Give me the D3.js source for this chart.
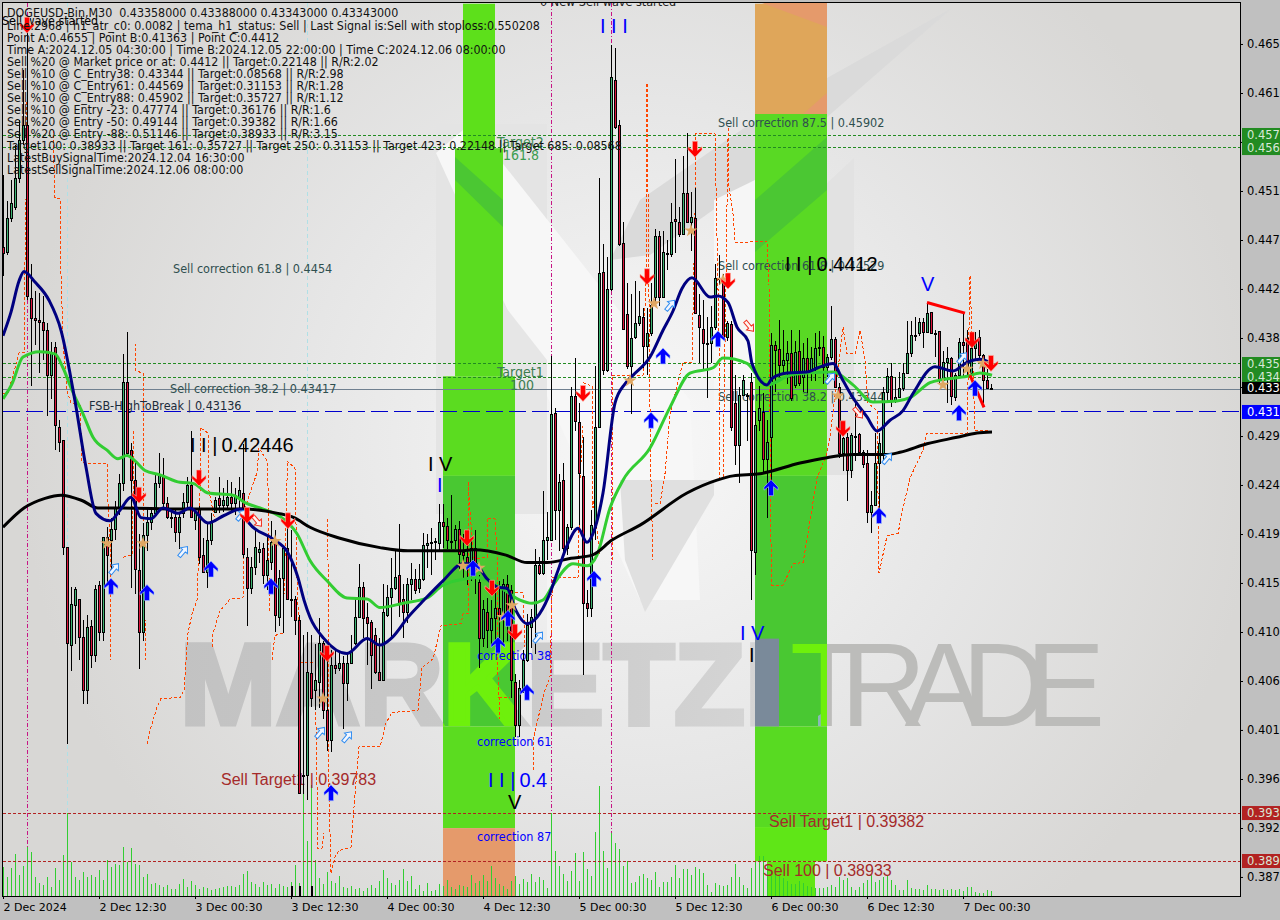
<!DOCTYPE html>
<html><head><meta charset="utf-8">
<script src="https://cdnjs.cloudflare.com/ajax/libs/d3/7.8.5/d3.min.js"></script>
<style>html,body{margin:0;padding:0;background:#c0c0c0}svg{display:block}
text{font-family:"DejaVu Sans Condensed","DejaVu Sans",sans-serif}</style></head><body>
<svg id="c" width="1280" height="920"></svg>
<script>
// Prices are written as price x 10^4, bars are 30-minute candles numbered from the left.
const opens=[4466,4462,4493,4504,4531,4566,4580,4419,4400,4398,
4396,4389,4347,4373,4298,4286,4186,4095,4132,4138,
4102,4053,4112,4085,4151,4107,4195,4193,4203,4223,
4246,4340,4277,4249,4165,4107,4197,4209,4218,4246,
4253,4227,4214,4214,4200,4218,4228,4244,4211,4223,
4179,4163,4193,4219,4232,4225,4225,4233,4227,4233,
4237,4177,4148,4167,4181,4185,4160,4172,4191,4121,
4157,4185,4138,4138,4118,3973,3973,4068,4053,4060,
4096,4034,4006,4076,4073,4078,4059,4078,4096,4121,
4149,4121,4116,4104,4069,4062,4123,4139,4148,4160,
4138,4125,4152,4156,4148,4156,4188,4190,4192,4190,
4209,4206,4192,4193,4203,4181,4177,4171,4185,4153,
4101,4125,4109,4120,4129,4123,4152,4146,4060,4020,
4054,4081,4111,4121,4169,4162,4193,4193,4311,4221,
4249,4185,4205,4327,4303,4252,4134,4129,4205,4298,
4443,4351,4427,4622,4580,4470,4404,4355,4382,4395,
4401,4374,4386,4420,4477,4420,4461,4460,4492,4490,
4478,4517,4490,4493,4403,4390,4377,4377,4392,4437,
4437,4382,4394,4321,4281,4328,4328,4340,4181,4305,
4312,4268,4289,4375,4371,4356,4361,4367,4337,4369,
4345,4363,4349,4354,4372,4373,4354,4364,4380,4336,
4274,4289,4258,4290,4292,4275,4265,4219,4225,4265,
4274,4331,4346,4323,4326,4335,4349,4367,4384,4386,
4396,4387,4406,4386,4388,4342,4359,4363,4326,4347,
4378,4381,4349,4372,4382,4365,4342,4335];
const closes=[4461,4493,4507,4531,4566,4580,4421,4400,4398,4396,
4389,4347,4368,4300,4284,4186,4096,4133,4147,4102,
4053,4111,4085,4147,4107,4195,4179,4203,4223,4246,
4340,4274,4249,4166,4107,4197,4209,4218,4246,4253,
4227,4214,4213,4200,4214,4228,4244,4214,4219,4177,
4163,4193,4209,4230,4225,4230,4233,4227,4235,4239,
4180,4148,4167,4186,4184,4160,4174,4191,4123,4157,
4185,4138,4137,4118,3956,3972,4069,4045,4062,4096,
4034,4006,4076,4073,4078,4059,4078,4088,4121,4149,
4120,4115,4085,4069,4062,4125,4139,4148,4158,4134,
4125,4152,4156,4146,4156,4188,4190,4191,4191,4209,
4206,4193,4191,4203,4180,4179,4169,4185,4165,4101,
4128,4109,4120,4129,4123,4152,4115,4062,4020,4054,
4081,4113,4121,4169,4162,4193,4195,4310,4221,4247,
4185,4205,4327,4304,4255,4134,4129,4207,4298,4442,
4351,4427,4625,4578,4469,4390,4355,4381,4395,4402,
4374,4386,4412,4477,4420,4462,4460,4490,4491,4478,
4517,4490,4494,4405,4392,4377,4376,4392,4437,4436,
4382,4395,4298,4281,4328,4342,4327,4183,4300,4316,
4268,4284,4375,4370,4356,4361,4367,4325,4368,4339,
4363,4349,4363,4372,4373,4354,4364,4380,4336,4274,
4288,4258,4291,4289,4275,4264,4219,4225,4265,4283,
4331,4346,4323,4326,4335,4349,4367,4384,4383,4396,
4387,4405,4386,4385,4342,4359,4363,4327,4347,4378,
4375,4351,4372,4379,4365,4342,4335,4334];
const highs=[4534,4510,4529,4562,4585,4632,4674,4451,4426,4424,
4421,4396,4378,4378,4305,4286,4186,4149,4149,4138,
4118,4123,4118,4151,4155,4195,4205,4214,4230,4255,
4367,4387,4284,4267,4199,4209,4223,4223,4255,4274,
4270,4233,4223,4223,4218,4237,4252,4295,4223,4225,
4195,4209,4218,4233,4252,4242,4249,4247,4242,4252,
4283,4186,4177,4202,4191,4190,4197,4211,4202,4165,
4186,4214,4202,4141,4123,4104,4107,4104,4096,4120,
4099,4093,4090,4090,4088,4085,4087,4104,4139,4171,
4154,4134,4118,4111,4102,4152,4151,4176,4183,4208,
4152,4158,4172,4166,4171,4200,4199,4204,4195,4227,
4227,4214,4235,4207,4211,4199,4193,4194,4202,4160,
4137,4139,4137,4146,4155,4157,4160,4151,4068,4062,
4090,4124,4129,4185,4177,4239,4219,4365,4316,4255,
4265,4208,4336,4363,4321,4289,4146,4221,4356,4531,
4470,4457,4655,4653,4585,4490,4433,4423,4435,4426,
4410,4410,4433,4484,4482,4482,4473,4508,4549,4504,
4552,4573,4518,4522,4423,4417,4401,4412,4451,4459,
4442,4398,4398,4347,4336,4347,4330,4349,4314,4337,
4330,4305,4386,4379,4399,4389,4379,4389,4379,4389,
4377,4382,4373,4386,4388,4384,4367,4412,4383,4340,
4289,4293,4293,4321,4293,4277,4277,4239,4293,4293,
4336,4354,4358,4345,4350,4358,4398,4398,4401,4400,
4400,4414,4406,4389,4388,4370,4373,4364,4349,4382,
4405,4389,4381,4387,4389,4367,4353,4339];
const lows=[4440,4459,4490,4501,4527,4562,4417,4337,4375,4349,
4361,4309,4325,4277,4275,4179,4003,4071,4096,4081,
4040,4040,4074,4079,4099,4099,4152,4165,4193,4216,
4239,4272,4148,4143,4073,4099,4183,4202,4216,4242,
4221,4213,4204,4191,4185,4214,4223,4214,4202,4171,
4163,4148,4188,4218,4218,4219,4223,4218,4216,4221,
4176,4113,4143,4160,4172,4152,4146,4165,4107,4113,
4106,4137,4121,4104,3956,3956,3950,4037,4034,4036,
4026,3996,3995,4068,4071,4017,4043,4078,4095,4120,
4102,4076,4054,4068,4062,4062,4121,4102,4146,4121,
4102,4116,4137,4143,4144,4155,4167,4160,4174,4183,
4186,4185,4185,4185,4166,4158,4151,4155,4143,4074,
4093,4092,4096,4093,4099,4096,4099,4046,4009,4009,
4050,4079,4092,4087,4160,4160,4174,4193,4193,4183,
4177,4179,4202,4295,4207,4067,4121,4121,4193,4298,
4347,4350,4426,4577,4468,4389,4353,4311,4381,4393,
4354,4347,4384,4412,4412,4420,4445,4457,4461,4476,
4478,4489,4463,4405,4358,4353,4326,4358,4389,4431,
4381,4379,4295,4263,4246,4328,4286,4137,4160,4295,
4255,4214,4242,4331,4345,4347,4339,4323,4335,4337,
4331,4330,4342,4342,4365,4339,4345,4361,4335,4270,
4258,4230,4251,4267,4272,4260,4209,4200,4225,4214,
4267,4321,4317,4321,4326,4332,4349,4364,4379,4384,
4372,4387,4386,4364,4339,4342,4321,4319,4323,4347,
4345,4345,4345,4361,4361,4321,4335,4334];
const volumes=[29,19,28,42,21,30,49,44,19,13,
11,19,9,28,16,41,83,34,19,16,
24,19,21,19,26,16,36,29,32,31,
49,34,48,32,31,19,22,12,13,11,
9,11,7,7,12,17,9,15,11,7,
9,8,6,7,8,9,10,10,9,11,
22,25,14,12,9,14,11,12,8,12,
10,9,14,31,13,105,55,111,36,18,
12,24,15,13,20,9,8,10,7,8,
5,8,11,8,15,26,18,13,11,16,
27,15,20,7,11,5,13,5,6,12,
10,16,9,7,11,10,9,21,13,15,
21,15,30,18,12,10,7,15,20,12,
17,14,22,14,19,16,8,83,45,30,
22,15,25,43,15,44,27,20,64,110,
45,28,63,53,47,30,35,13,14,20,
22,18,16,24,9,14,14,19,31,18,
27,27,21,29,27,23,11,4,13,11,
10,11,19,32,19,11,8,28,34,40,
40,30,25,22,20,18,15,12,12,15,
13,10,9,8,8,8,9,11,9,19,
16,18,9,6,9,13,16,21,14,16,
19,21,16,11,6,6,16,8,7,7,
6,11,7,7,6,7,6,7,6,7,
5,9,9,4,3,3,6,5];
const blackVolumeBars=[72,74,77];

// Moving averages: [bar, price]
const fastLine=[[0,4384],[2,4406],[4,4435],[5.25,4444],[8,4434],[11.5,4417],[14.5,4389],[18,4323],[20.75,4261],[23.25,4218],[26.75,4211],[29.25,4221],[32,4233],[34.5,4214],[37,4213],[40,4223],[43.75,4218],[46.75,4223],[51.25,4209],[55.25,4216],[59.5,4222],[61.5,4209],[67.5,4194],[71.25,4181],[73.75,4158],[75.25,4137],[76.75,4121],[80.25,4101],[86,4087],[91,4101],[94.25,4095],[97.25,4102],[101.25,4121],[105.25,4137],[110,4155],[115,4171],[118,4171],[120.75,4158],[123.75,4149],[126,4148],[128,4129],[131,4115],[133.5,4121],[136.25,4139],[138.5,4162],[141.25,4190],[143.75,4204],[146,4191],[147.5,4199],[150,4237],[153,4321],[155.5,4339],[157.5,4347],[161.75,4364],[165,4389],[167.5,4407],[169.75,4428],[172.25,4438],[176.75,4420],[178.75,4421],[181.25,4415],[183.5,4392],[186.25,4379],[187.25,4358],[191,4338],[192.25,4344],[196,4349],[201,4350],[203.75,4354],[207.5,4358],[210,4342],[212.5,4326],[216,4308],[218.5,4295],[221.75,4305],[225,4314],[227.5,4330],[233,4355],[237.5,4351],[241,4359],[244.25,4362],[246.75,4359]];
const midLine=[[0,4325],[2.25,4339],[5,4364],[9.25,4369],[13,4367],[15,4354],[17.25,4333],[20,4311],[22.5,4289],[26,4277],[28.75,4269],[31,4272],[33,4267],[35.5,4258],[39.25,4254],[44.25,4247],[47.5,4246],[51.25,4237],[57.5,4235],[60.5,4228],[64.25,4223],[70,4213],[73.5,4199],[76.75,4174],[81,4155],[86,4139],[91,4138],[94.25,4130],[100,4134],[106,4139],[110,4151],[116,4157],[118.5,4158],[124.25,4149],[129.25,4137],[132.25,4134],[135,4137],[137.5,4151],[142.5,4171],[146,4169],[148.5,4179],[151.75,4223],[155,4249],[161.75,4279],[166.75,4317],[171.75,4349],[177.5,4354],[180,4363],[186,4358],[188.5,4347],[191,4338],[196.75,4347],[201,4349],[207.5,4350],[212.5,4338],[217.5,4322],[223.5,4323],[226.75,4326],[231.75,4340],[235,4343],[241,4346],[244.25,4349],[247.25,4347]];
const slowLine=[[0,4205],[5.25,4223],[10.5,4232],[14.5,4235],[19.75,4230],[23.75,4223],[29.75,4223],[44.25,4222],[60.5,4222],[68.75,4218],[72.75,4214],[76.75,4205],[84,4195],[94.25,4186],[101.25,4183],[114.5,4183],[117.5,4184],[125.75,4179],[131,4172],[136,4172],[142,4176],[147.25,4179],[152.25,4193],[159.25,4207],[171,4237],[178.5,4249],[182.5,4253],[189.25,4255],[199.25,4265],[206,4270],[212.5,4273],[221,4273],[224.25,4275],[231,4283],[238.5,4289],[243.5,4293],[247.25,4294]];

// Orange dashed stop trail, broken into its visible pieces
const trailPieces=[
[[0,4330],[1.25,4330],[3.5,4361],[4,4368],[5.25,4368],[5.25,4398],[5.75,4510],[6,4604]],
[[12.5,4576],[13,4513],[14.25,4512],[14.5,4442],[15,4379],[16,4333],[17,4321],[19.25,4319],[19.75,4267],[20.5,4265],[26,4265],[26.25,4227],[26.75,4193],[27,4081]],
[[33,4377],[33.25,4351],[35,4349],[35.25,4308],[35,4193],[35.75,4081]],
[[30,4177],[32.25,4179],[32.5,4227],[32.5,4295]],
[[36,4003],[36.5,4012],[38.5,4037],[39.5,4045],[44.25,4046],[45.25,4053],[46.25,4106],[47.25,4124],[48.5,4137],[48.75,4162],[49.25,4237],[49.25,4298],[51.25,4293],[51.5,4239],[53,4211]],
[[52.25,4093],[52.5,4106],[54.25,4127],[56.75,4138],[60,4139],[60.5,4223],[63.5,4256],[64,4279],[66,4267],[66.5,4221],[66.25,4188],[66.75,4127]],
[[67.25,4081],[68,4104],[70,4106],[71,4249],[71,4267],[73,4260],[73.5,4158],[74.25,4079],[78,4079],[78.75,3905],[79.75,3905],[80.25,3919]],
[[81,4213],[81.25,4174],[81.5,3959],[82,3882],[83,3897],[84,3903],[87,3906],[88,3956],[89,4000],[94.25,4000],[95.75,4022],[97.25,4032],[103.75,4034],[104.75,4074],[107.5,4082],[109.5,4113],[114.5,4115],[115,4124],[116.25,4124],[116.25,4247]],
[[116.25,4247],[117.25,4195],[117.25,4177],[119,4176],[121,4177],[121,4213],[123,4213],[123.5,4183],[123.75,4065],[124.25,4026]],
[[124,4046],[126.75,4046]],
[[128,4144],[130,4144],[130.5,4093],[131,4089]],
[[132.5,3978],[132.5,4006],[134.25,4034],[135.5,4053],[136.75,4065],[137.25,4141],[137.5,4158],[143.75,4158],[144.25,4249],[145,4300]],
[[145,4340],[147.25,4337],[147.25,4223],[147.5,4230],[149.25,4180]],
[[152.25,4174],[152.25,4347],[160,4347],[160.75,4442],[161,4620],[161.75,4317],[161.75,4286],[162.5,4174]],
[[163,4227],[164.25,4227],[165.5,4255],[166.75,4311],[170,4359],[172.25,4359],[173,4498],[173.25,4573],[178,4573],[179,4379],[179.25,4251],[180,4251],[181.25,4569]],
[[181.25,4578],[181.25,4529],[182.5,4498],[183,4471],[191,4472],[191.5,4431],[192,4190],[192.25,4151],[195,4151],[197.5,4171],[200,4172],[201.75,4211],[203.5,4251],[206,4274],[206.75,4289],[210,4392],[211,4367],[213,4367],[214.25,4389],[215.5,4361],[216.25,4321],[218.5,4314],[219,4162],[221,4197],[223.75,4199],[225,4223],[226.75,4251],[230,4277],[231,4293],[241,4293],[241.75,4440],[243,4295],[246.75,4295]]
];

// Signals: [bar, price]
const sellArrows=[[6,4674],[34,4235],[49,4251],[61,4216],[71.25,4211],[81,4087],[116,4195],[122.25,4148],[128,4107],[145,4330],[161,4439],[173,4558],[181.25,4435],[210,4297],[242.25,4380],[247,4358]];
const buyArrows=[[27,4150],[36,4144],[52,4166],[67,4150],[82,3957],[117.5,4167],[123.75,4095],[126.25,4120],[131,4051],[147.75,4157],[162,4305],[165,4365],[178.75,4381],[192,4242],[219,4216],[239,4312],[243,4335]];
const starMarks=[[26,4190],[35,4190],[68,4192],[80,4045],[115,4169],[119,4167],[125,4121],[127.25,4132],[156.75,4342],[162.75,4414],[172,4482],[180,4436],[208.75,4328],[235,4338],[241,4353],[245,4358]];
const hollowBuy=[[27.75,4166],[45,4182],[79.25,4013],[86,4009],[59.5,4216],[133.75,4102],[166.75,4412],[206.75,4344],[239.75,4363],[221,4269]];
const hollowSell=[[63.5,4211],[186.5,4393],[213.75,4312]];
const waveSegments=[[[231,4415],[240.5,4405]],[[241.75,4347],[245.25,4317]]];

// Price levels
const levelGreen=[0.45714,0.45602,0.43584,0.43454];
const levelRed=[0.39382,0.38933];
const levelBlue=0.43136, levelLast=0.43343;
const tagLabels=[["0.45714","#228b22"],["0.45602","#228b22"],["0.43584","#228b22"],["0.43454","#228b22"],["0.43343","#000"],["0.43136","#0000ff"],["0.39382","#b22222"],["0.38933","#b22222"]];
const tagCentres=[0.45714,0.45592,0.43575,0.43454,0.43351,0.43127,0.39381,0.38933];

// Axis labels
const priceTicks=[0.46564,0.46106,0.45649,0.45191,0.44733,0.44276,0.43818,0.43360,0.42902,0.42445,0.41987,0.41530,0.41072,0.40614,0.40157,0.39699,0.39241,0.38784];
const timeTicks=[0,24,48,72,96,120,144,168,192,216,240];
const timeLabels=["2 Dec 2024","2 Dec 12:30","3 Dec 00:30","3 Dec 12:30","4 Dec 00:30","4 Dec 12:30","5 Dec 00:30","5 Dec 12:30","6 Dec 00:30","6 Dec 12:30","7 Dec 00:30"];

// Wave zones: bar from, bar to, price top, price bottom
const zones=[
[115,123,4694,4559,"#5de01b"],[113,125,4559,4346,"#5bdc20"],
[110,128,4346,4253,"#5bdc20"],[110,128,4253,4019,"#49c832"],[110,128,4019,3924,"#5bdc20"],[110,128,3924,3860,"#e59a6b"],
[188,206,4694,4591,"#dfa65a"],[188,206,4591,4253,"#59d924"],[188,206,4253,4019,"#49c832"],[188,206,4019,3925,"#58da22"],[188,206,3925,3893,"#5fe617"],[191,203,3893,3860,"#62e614"]];
const watermarkWindows=[[110,128,4101,4019],[194.2,206,4101,4019]];

const magentaLines=[[6,3904],[137,3875],[152,3917]];
const cyanLines=[[16,3938],[76,4137]];

const infoLines=["DOGEUSD-Bin,M30  0.43358000 0.43388000 0.43343000 0.43343000",
"Line:2968 | h1_atr_c0: 0.0082 | tema_h1_status: Sell | Last Signal is:Sell with stoploss:0.550208",
"Point A:0.4655 | Point B:0.41363 | Point C:0.4412",
"Time A:2024.12.05 04:30:00 | Time B:2024.12.05 22:00:00 | Time C:2024.12.06 08:00:00",
"Sell %20 @ Market price or at: 0.4412 || Target:0.22148 || R/R:2.02",
"Sell %10 @ C_Entry38: 0.43344 || Target:0.08568 || R/R:2.98",
"Sell %10 @ C_Entry61: 0.44569 || Target:0.31153 || R/R:1.28",
"Sell %10 @ C_Entry88: 0.45902 || Target:0.35727 || R/R:1.12",
"Sell %10 @ Entry -23: 0.47774 || Target:0.36176 || R/R:1.6",
"Sell %20 @ Entry -50: 0.49144 || Target:0.39382 || R/R:1.66",
"Sell %20 @ Entry -88: 0.51146 || Target:0.38933 || R/R:3.15",
"Target100: 0.38933 || Target 161: 0.35727 || Target 250: 0.31153 || Target 423: 0.22148 || Target 685: 0.08568",
"LatestBuySignalTime:2024.12.04 16:30:00",
"LatestSellSignalTime:2024.12.06 08:00:00"];
const infoTops=[13,26,38,50,62,74,86,98,110,122,134,146,158,170];

// text, x, y (middle), size, colour
const notes=[
["Sell wave started",2,21,12.35,"#000"],
["0 New Sell wave started",540,1,12.5,"#222"],
["Target2",497,142,14,"#3c8c50"],["161.8",503,155,14,"#3c9c50"],
["Target1",497,372,14,"#3c7c50"],["100",510,385,14,"#3c7c50"],
["Sell correction 61.8 | 0.4454",173,268,12.5,"#2f4f4f"],
["Sell correction 38.2 | 0.43417",170,388,12.5,"#2f4f4f"],
["FSB-HighToBreak  |  0.43136",89,405,12.5,"#1c2c3c"],
["Sell correction 87.5 | 0.45902",718,122,12.5,"#2f4f4f"],
["Sell correction 61.8 | 0.44529",718,265,12.5,"#2f4f4f"],
["Sell correction 38.2 | 0.43344",718,396,12.5,"#2f4f4f"],
["I I |\u20090.4412",785,264,20,"#000"],
["I I |\u20090.42446",190,445,20,"#000"],
["I I I",600,26,20,"#0000ff"],
["V",921,284,20,"#0000ff"],
["I V",428,464,20,"#000"],
["I",437,485,20,"#0000ff"],
["I V",740,633,20,"#0000ff"],
["I",749,655,20,"#000"],
["I I |\u20090.4",488,780,20,"#0000ff"],
["V",508,802,20,"#000"],
["correction 38",477,655,12.5,"#0000ff"],
["correction 61",477,741,12.5,"#0000ff"],
["correction 87",477,836,12.5,"#0000ff"],
["Sell Target1 | 0.39783",221,779,16,"#a52a2a"],
["Sell Target1 | 0.39382",769,821,16,"#a52a2a"],
["Sell 100 | 0.38933",763,870,16,"#a52a2a"]];

const svg=d3.select("#c");
const px=1e-4;
const x=d3.scaleLinear().domain([0,247]).range([3,991]);
const y=d3.scaleLinear().domain([0.43136,0.38933]).range([411,861]);
const yE=v=>y(v*px);
const volY=d3.scaleLinear().domain([0,120]).range([896,776]);
const bars=d3.range(opens.length);

const defs=svg.append("defs");
const rg=defs.append("radialGradient").attr("id","bg").attr("gradientUnits","userSpaceOnUse").attr("cx",640).attr("cy",440).attr("r",620);
rg.append("stop").attr("offset",0).attr("stop-color","#f8f8f8");
rg.append("stop").attr("offset",.55).attr("stop-color","#e6e6e6");
rg.append("stop").attr("offset",1).attr("stop-color","#d8d7d5");
const wg=defs.append("linearGradient").attr("id","wm").attr("gradientUnits","userSpaceOnUse").attr("x1",175).attr("x2",790).attr("y1",0).attr("y2",0);
wg.append("stop").attr("offset",0).attr("stop-color","#c2c2c2");
wg.append("stop").attr("offset",.6).attr("stop-color","#cbcbcb");
wg.append("stop").attr("offset",1).attr("stop-color","#d6d6d6");
defs.append("clipPath").attr("id","plot").append("rect").attr("x",3).attr("y",3).attr("width",1237).attr("height",893);
const zoneClip=defs.append("clipPath").attr("id","zoneclip");
watermarkWindows.forEach(z=>zoneClip.append("rect").attr("x",x(z[0])).attr("width",x(z[1])-x(z[0])).attr("y",yE(z[2])).attr("height",yE(z[3])-yE(z[2])));

svg.append("rect").attr("width",1280).attr("height",920).attr("fill","#c0c0c0");
svg.append("rect").attr("x",3).attr("y",3).attr("width",1237).attr("height",893).attr("fill","url(#bg)");
const g=svg.append("g").attr("clip-path","url(#plot)");

// background logo
const logoShapes=[
["#e4e4e4",[[436,124],[547,124],[547,514],[436,514]]],
["#f7f7f7",[[436,153],[470,124],[500,160],[690,400],[700,600],[640,600]]],
["#e6e6e6",[[500,300],[547,360],[547,514],[500,514]]],
["#dadada",[[952,8],[770,110],[640,200],[610,260],[650,255],[755,180]]],
["#e2e2e2",[[854,158],[755,250],[755,475],[854,475]]],
["#f6f6f6",[[714,200],[755,180],[755,475],[714,480]]],
["#e0e0e0",[[620,480],[714,480],[714,495],[645,612],[625,560]]],
["#f4f4f4",[[547,514],[585,514],[585,640],[547,640]]]];
g.selectAll(".logo").data(logoShapes).join("polygon").attr("fill",d=>d[0]).attr("points",d=>d[1].join(" "));

// watermark
function watermark(sel,c1,c2){
 sel.append("text").attr("x",180).attr("y",723.5).attr("font-size",115).attr("font-weight",700).attr("textLength",597).attr("lengthAdjust","spacingAndGlyphs").style("font-family","Liberation Sans").attr("fill",c1).attr("stroke",c1).attr("stroke-width",5).text("MARKETZI");
 sel.append("text").attr("x",790).attr("y",726).attr("font-size",119).attr("textLength",315).attr("lengthAdjust","spacing").style("font-family","Liberation Sans").attr("fill",c2).text("TRADE");
}
watermark(g.append("g"),"url(#wm)","#bcbcba");

// wave zones
g.selectAll(".z").data(zones).join("rect").attr("x",d=>x(d[0])).attr("width",d=>x(d[1])-x(d[0])).attr("y",d=>yE(d[2])).attr("height",d=>yE(d[3])-yE(d[2])).attr("fill",d=>d[4]);
// tints where the logo shows through the zones
const zoneTints=[
["#e59a6b",[[762,3],[827,3],[827,27]]],["#e59a6b",[[803,114],[827,93],[827,114]]],
["#4bc733",[[755,200],[827,137],[827,190],[755,252]]],["#4bc733",[[455,157],[503,200],[503,227],[455,180]]],
["#8ab8b8",[[818,716],[827,710],[827,726],[818,726]]]];
g.selectAll(".zt").data(zoneTints).join("polygon").attr("fill",d=>d[0]).attr("points",d=>d[1].join(" "));
watermark(g.append("g").attr("clip-path","url(#zoneclip)"),"#6ef00c","#6ef00c");
g.append("rect").attr("x",x(188)).attr("width",x(194)-x(188)).attr("y",yE(4101)).attr("height",yE(4019)-yE(4101)).attr("fill","#7a8a9a");

// vertical session lines
g.selectAll(".mg").data(magentaLines).join("line").attr("shape-rendering","crispEdges").attr("x1",d=>x(d[0])+.5).attr("x2",d=>x(d[0])+.5).attr("y1",3).attr("y2",d=>yE(d[1])).attr("stroke","#c71585").attr("stroke-dasharray","4,2,1,2");
g.selectAll(".cy").data(cyanLines).join("line").attr("shape-rendering","crispEdges").attr("x1",d=>x(d[0])+.5).attr("x2",d=>x(d[0])+.5).attr("y1",3).attr("y2",d=>yE(d[1])).attr("stroke","#b0e0e6").attr("stroke-dasharray","4,3");

// volume
g.selectAll(".v").data(bars).join("line").attr("shape-rendering","crispEdges").attr("x1",i=>x(i)+.5).attr("x2",i=>x(i)+.5).attr("y1",896).attr("y2",i=>volY(volumes[i])).attr("stroke","#32cd32");
g.selectAll(".vb").data(blackVolumeBars).join("rect").attr("x",i=>x(i)).attr("width",2).attr("y",886).attr("height",10).attr("fill","#000");

// price levels
const hl=(v,col,dash,w)=>g.append("line").attr("shape-rendering","crispEdges").attr("x1",3).attr("x2",1240).attr("y1",Math.round(y(v))+.5).attr("y2",Math.round(y(v))+.5).attr("stroke",col).attr("stroke-dasharray",dash).attr("stroke-width",w||1);
levelGreen.forEach(v=>hl(v,"#228b22","3,2"));
levelRed.forEach(v=>hl(v,"#b22222","3,2"));
hl(levelLast,"#708090","");
hl(levelBlue,"#0000cd","17,6");

// notes behind the marks
g.selectAll(".n").data(notes).join("text").each(function(d){
 const t=d3.select(this).attr("x",d[1]).attr("y",d[2]).attr("dy","0.36em").attr("font-size",d[3]).attr("fill",d[4]).text(d[0]);
 if(d[3]>=15) t.style("font-family","Liberation Sans");
});

// orange trail
const lin=d3.line().x(d=>x(d[0])).y(d=>yE(d[1]));
g.selectAll(".t").data(trailPieces).join("path").attr("shape-rendering","crispEdges").attr("d",lin).attr("fill","none").attr("stroke","#ff4500").attr("stroke-dasharray","3,2");

// candles
const cg=g.append("g").attr("shape-rendering","crispEdges");
cg.selectAll(".w").data(bars).join("line").attr("x1",i=>x(i)+.5).attr("x2",i=>x(i)+.5).attr("y1",i=>yE(highs[i])).attr("y2",i=>yE(lows[i])).attr("stroke","#000");
cg.selectAll(".b").data(bars).join("rect").attr("x",i=>x(i)-.5).attr("width",2).attr("y",i=>Math.min(yE(opens[i]),yE(closes[i]))).attr("height",i=>Math.max(1,Math.abs(yE(opens[i])-yE(closes[i])))).attr("fill",i=>closes[i]>=opens[i]?"#3cb371":"#dc143c").attr("stroke","#000").attr("stroke-width",1);

// averages
const cur=d3.line().x(d=>x(d[0])).y(d=>yE(d[1])).curve(d3.curveMonotoneX);
g.append("path").attr("d",cur(midLine)).attr("fill","none").attr("stroke","#32cd32").attr("stroke-width",3);
g.append("path").attr("d",cur(slowLine)).attr("fill","none").attr("stroke","#000").attr("stroke-width",3);
g.append("path").attr("d",cur(fastLine)).attr("fill","none").attr("stroke","#000080").attr("stroke-width",3);

// wave strokes
g.selectAll(".ws").data(waveSegments).join("path").attr("d",lin).attr("stroke","#ff0000").attr("stroke-width",3).attr("fill","none");

// signals
const arrow="M0,-8 L7,-0.5 L7,2.5 L2.5,-1 L2.5,8 L-2.5,8 L-2.5,-1 L-7,2.5 L-7,-0.5 Z";
const hollow="M0,-7 L4.5,-1.5 L1.8,-1.5 L1.8,6 L-1.8,6 L-1.8,-1.5 L-4.5,-1.5 Z";
g.selectAll(".st").data(starMarks).join("path").attr("d",d3.symbol(d3.symbolStar,55)).attr("transform",d=>`translate(${x(d[0])},${yE(d[1])})`).attr("fill","#dfa763");
g.selectAll(".hb").data(hollowBuy).join("path").attr("d",hollow).attr("transform",d=>`translate(${x(d[0])},${yE(d[1])}) rotate(40)`).attr("fill","#f2f6ff").attr("stroke","#2f8cf0");
g.selectAll(".hs").data(hollowSell).join("path").attr("d",hollow).attr("transform",d=>`translate(${x(d[0])},${yE(d[1])}) rotate(140)`).attr("fill","#fff2f0").attr("stroke","#f03020");
g.selectAll(".ba").data(buyArrows).join("path").attr("d",arrow).attr("transform",d=>`translate(${x(d[0])},${yE(d[1])})`).attr("fill","#0000ff").attr("stroke","#a8c8ff").attr("stroke-width",.6);
g.selectAll(".sa").data(sellArrows).join("path").attr("d",arrow).attr("transform",d=>`translate(${x(d[0])},${yE(d[1])}) scale(1,-1)`).attr("fill","#ff0000").attr("stroke","#ffb0a0").attr("stroke-width",.6);

// info block on top
g.selectAll(".inf").data(infoLines).join("text").attr("x",7).attr("y",(d,i)=>infoTops[i]).attr("dy","0.36em").attr("font-size",12.35).attr("fill","#111").attr("xml:space","preserve").text(d=>d);

// frame
svg.append("rect").attr("x",2.5).attr("y",2.5).attr("width",1238).attr("height",894).attr("fill","none").attr("stroke","#000").attr("shape-rendering","crispEdges");

// axes
const ax=svg.append("g").attr("transform","translate(1240,0)").call(d3.axisRight(y).tickValues(priceTicks).tickFormat(d3.format(".5f")).tickSize(3).tickSizeOuter(0));
ax.select(".domain").remove();
ax.selectAll("text").attr("x",7).attr("font-size",11.5).style("font-family","DejaVu Sans").attr("fill","#000");
ax.selectAll("line").attr("stroke","#000");
const bx=svg.append("g").attr("transform","translate(0,896)").call(d3.axisBottom(x).tickValues(timeTicks).tickFormat((d,i)=>timeLabels[i]).tickSize(3).tickSizeOuter(0));
bx.select(".domain").remove();
bx.selectAll("text").attr("text-anchor","start").attr("y",7).attr("dy","0.71em").attr("font-size",11).style("font-family","DejaVu Sans").attr("fill","#000");
bx.selectAll("line").attr("stroke","#000");

// price tags
tagLabels.forEach((t,i)=>{
 const cy=y(tagCentres[i]);
 const h=t[1]=="#000"?12:14;
 svg.append("rect").attr("x",1242).attr("width",38).attr("y",cy-h/2).attr("height",h).attr("fill",t[1]);
 svg.append("text").attr("x",1247).attr("y",cy).attr("dy","0.36em").attr("font-size",11.5).style("font-family","DejaVu Sans").attr("fill",t[1]=="#000"||t[1]=="#0000ff"?"#fff":"#d8e8d8").text(t[0]);
});
</script>
</body></html>
